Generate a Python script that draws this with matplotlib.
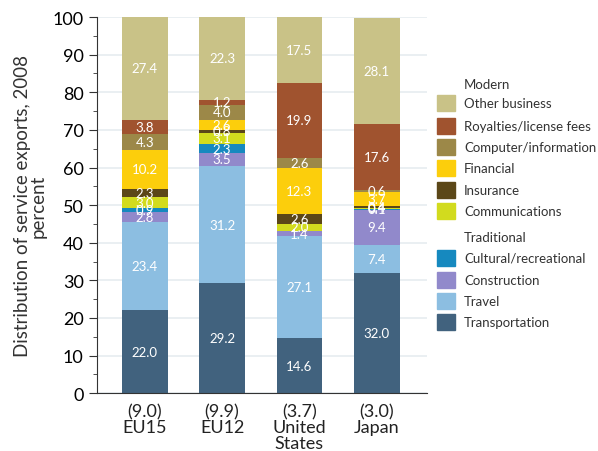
import numpy as np
import matplotlib
matplotlib.use('Agg')
import matplotlib.pyplot as plt
from matplotlib.patches import Rectangle

plt.rcParams['font.family'] = ['Lato', 'DejaVu Sans']

# categorias (eixo x)
regioes = ['(9.0)\nEU15', '(9.9)\nEU12', '(3.7)\nUnited\nStates', '(3.0)\nJapan']

# séries de baixo para cima
componentes = ['Transportation', 'Travel', 'Construction', 'Cultural/recreational',
               'Communications', 'Insurance', 'Financial', 'Computer/information',
               'Royalties/license fees', 'Other business']
transportation = [22.0, 29.2, 14.6, 32.0]
travel = [23.4, 31.2, 27.1, 7.4]
construction = [2.8, 3.5, 1.4, 9.4]
cultural = [0.9, 2.3, 0.0, 0.1]
communications = [3.0, 3.1, 2.0, 0.4]
insurance = [2.3, 0.8, 2.6, 0.4]
financial = [10.2, 2.6, 12.3, 3.7]
computer = [4.3, 4.0, 2.6, 0.6]
royalties = [3.8, 1.2, 19.9, 17.6]
other_business = [27.4, 22.3, 17.5, 28.1]

valores = [transportation, travel, construction, cultural, communications,
           insurance, financial, computer, royalties, other_business]

cores = {
    'Other business': '#C9C287',
    'Royalties/license fees': '#A0532F',
    'Computer/information': '#9C8848',
    'Financial': '#FCCE0C',
    'Insurance': '#5B4718',
    'Communications': '#D2DB1E',
    'Cultural/recreational': '#1689BF',
    'Construction': '#9189CB',
    'Travel': '#8CBEE1',
    'Transportation': '#41627E',
}

fig = plt.figure(figsize=(5.98, 4.52), dpi=100)
ax = fig.add_axes([0.162, 0.128, 0.552, 0.832])

x = np.arange(len(regioes))
base = np.zeros(len(regioes))
for nome, vals in zip(componentes, valores):
    vals = np.array(vals)
    ax.bar(x, vals, bottom=base, width=0.59, color=cores[nome], zorder=2)
    for xi, b, v in zip(x, base, vals):
        if v > 0:
            ax.text(xi, b + v / 2, f'{v:.1f}', ha='center', va='center',
                    color='white', fontsize=9.5, zorder=3)
    base += vals

ax.set_xlim(-0.62, 3.65)
ax.set_ylim(0, 100)
ax.set_yticks(np.arange(0, 101, 10))
ax.set_yticks(np.arange(0, 101, 5), minor=True)
ax.tick_params(axis='y', which='major', labelsize=13, length=6, color='#333333')
ax.tick_params(axis='y', which='minor', length=3, color='#333333')
ax.set_xticks(x)
ax.set_xticklabels(regioes, fontsize=13, color='#222222', linespacing=1.0)
ax.tick_params(axis='x', length=0, pad=7)
ax.yaxis.grid(True, color='#E6ECF0', lw=1.2, zorder=0)
for s in ['top', 'right']:
    ax.spines[s].set_visible(False)
ax.spines['left'].set_color('#333333')
ax.spines['bottom'].set_color('#333333')
ax.set_ylabel('Distribution of service exports, 2008\npercent', fontsize=13.5,
              color='#333333', linespacing=0.95, labelpad=4)

# legenda manual
W, H = 598, 452
def fy(py):
    return 1 - py / H

leg_items = [('Modern', None)] + [(n, cores[n]) for n in componentes[4:][::-1]] + \
            [('Traditional', None)] + [(n, cores[n]) for n in componentes[:4][::-1]]
ys = [85, 104, 127, 148, 169, 191, 212, 238, 259, 281, 302, 323]
for (nome, cor), py in zip(leg_items, ys):
    if cor is not None:
        fig.patches.append(Rectangle((437 / W, fy(py + 8)), 18 / W, 16 / H,
                                     transform=fig.transFigure, color=cor))
    fig.text(464 / W, fy(py), nome, fontsize=9.5, color='#333333', va='center', ha='left')

fig.savefig('out.png', dpi=100)
